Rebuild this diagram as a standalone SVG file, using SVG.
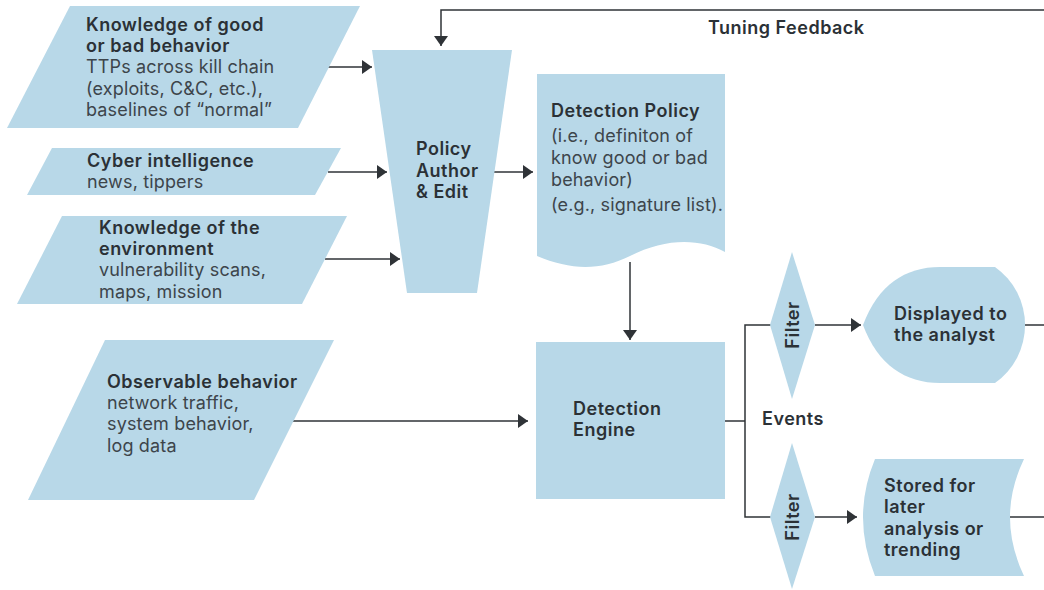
<svg xmlns="http://www.w3.org/2000/svg" width="1044" height="590" viewBox="0 0 1044 590">
<style>
.s{fill:#b8d8e8;stroke:none}
.t{font-family:Inter,"Liberation Sans",sans-serif;font-size:18px;fill:#2b3136}
.b{font-weight:600;letter-spacing:0.5px}
.r{font-weight:400;fill:#3d454b;letter-spacing:0.15px}
.c{fill:none;stroke:#2f3337;stroke-width:1.5}
</style>
<defs>
<marker id="ah" markerUnits="userSpaceOnUse" markerWidth="12" markerHeight="14" refX="10" refY="7" orient="auto">
<path d="M0,0 L10,7 L0,14 Z" fill="#2f3337"/>
</marker>
</defs>
<g id="connectors">
<path class="c" d="M1044,10 H441 V46" marker-end="url(#ah)"/>
<path class="c" d="M328,67 H372" marker-end="url(#ah)"/>
<path class="c" d="M328,172 H387" marker-end="url(#ah)"/>
<path class="c" d="M325,259 H400" marker-end="url(#ah)"/>
<path class="c" d="M493,172 H533" marker-end="url(#ah)"/>
<path class="c" d="M630,262 V340" marker-end="url(#ah)"/>
<path class="c" d="M293,421 H528" marker-end="url(#ah)"/>
<path class="c" d="M725,421 H745"/>
<path class="c" d="M771,325 H745 V517 H771"/>
<path class="c" d="M815,325 H861" marker-end="url(#ah)"/>
<path class="c" d="M815,517 H857" marker-end="url(#ah)"/>
<path class="c" d="M1025,325 H1044"/>
<path class="c" d="M1010,517 H1044"/>
<text class="t b" x="708" y="34">Tuning Feedback</text>
<text class="t b" x="762" y="425">Events</text>
</g>
<g id="n-knowledge-behavior">
<polygon class="s" points="70,6 360,6 298,128 7,128"/>
<text class="t b" x="86" y="31">Knowledge of good</text>
<text class="t b" x="86" y="52">or bad behavior</text>
<text class="t r" x="86" y="73">TTPs across kill chain</text>
<text class="t r" x="86" y="95">(exploits, C&amp;C, etc.),</text>
<text class="t r" x="86" y="116">baselines of “normal”</text>
</g>
<g id="n-cyber">
<polygon class="s" points="52,148 341,148 315,195 27,195"/>
<text class="t b" x="87" y="167">Cyber intelligence</text>
<text class="t r" x="87" y="188">news, tippers</text>
</g>
<g id="n-environment">
<polygon class="s" points="62,216 347,216 302,304 17,304"/>
<text class="t b" x="99" y="234">Knowledge of the</text>
<text class="t b" x="99" y="255">environment</text>
<text class="t r" x="99" y="276">vulnerability scans,</text>
<text class="t r" x="99" y="298">maps, mission</text>
</g>
<g id="n-observable">
<polygon class="s" points="105,340 334,340 254,500 28,500"/>
<text class="t b" x="107" y="388">Observable behavior</text>
<text class="t r" x="107" y="409">network traffic,</text>
<text class="t r" x="107" y="430">system behavior,</text>
<text class="t r" x="107" y="452">log data</text>
</g>
<g id="n-policy-author">
<polygon class="s" points="372,50 512,50 477,293 407,293"/>
<text class="t b" x="416" y="155">Policy</text>
<text class="t b" x="416" y="177">Author</text>
<text class="t b" x="416" y="198">&amp; Edit</text>
</g>
<g id="n-detection-policy">
<path class="s" d="M537,74 H725 V252 C700,238 665,238 630,256 C600,271 570,270 537,256 Z"/>
<text class="t b" x="551" y="117">Detection Policy</text>
<text class="t r" x="551" y="142">(i.e., definiton of</text>
<text class="t r" x="551" y="164">know good or bad</text>
<text class="t r" x="551" y="186">behavior)</text>
<text class="t r" x="551" y="211">(e.g., signature list).</text>
</g>
<g id="n-engine">
<rect class="s" x="536" y="342" width="189" height="157"/>
<text class="t b" x="573" y="415">Detection</text>
<text class="t b" x="573" y="436">Engine</text>
</g>
<g id="n-filter-top">
<polygon class="s" points="792,252 815,325 792,399 770,325"/>
<text class="t b" x="792" y="325" text-anchor="middle" dominant-baseline="central" transform="rotate(-90 792 325)">Filter</text>
</g>
<g id="n-filter-bottom">
<polygon class="s" points="792,443 815,517 792,589 770,517"/>
<text class="t b" x="792" y="517" text-anchor="middle" dominant-baseline="central" transform="rotate(-90 792 517)">Filter</text>
</g>
<g id="n-displayed">
<path class="s" d="M863,325 C878,285 905,267 940,267 L995,267 A71,71 0 0 1 995,383 L940,383 C905,383 878,365 863,325 Z"/>
<text class="t b" x="894" y="320">Displayed to</text>
<text class="t b" x="894" y="341">the analyst</text>
</g>
<g id="n-stored">
<path class="s" d="M875,459 L1024,459 Q996,517 1024,576 L875,576 Q851,517 875,459 Z"/>
<text class="t b" x="884" y="492">Stored for</text>
<text class="t b" x="884" y="513">later</text>
<text class="t b" x="884" y="535">analysis or</text>
<text class="t b" x="884" y="556">trending</text>
</g>
</svg>
